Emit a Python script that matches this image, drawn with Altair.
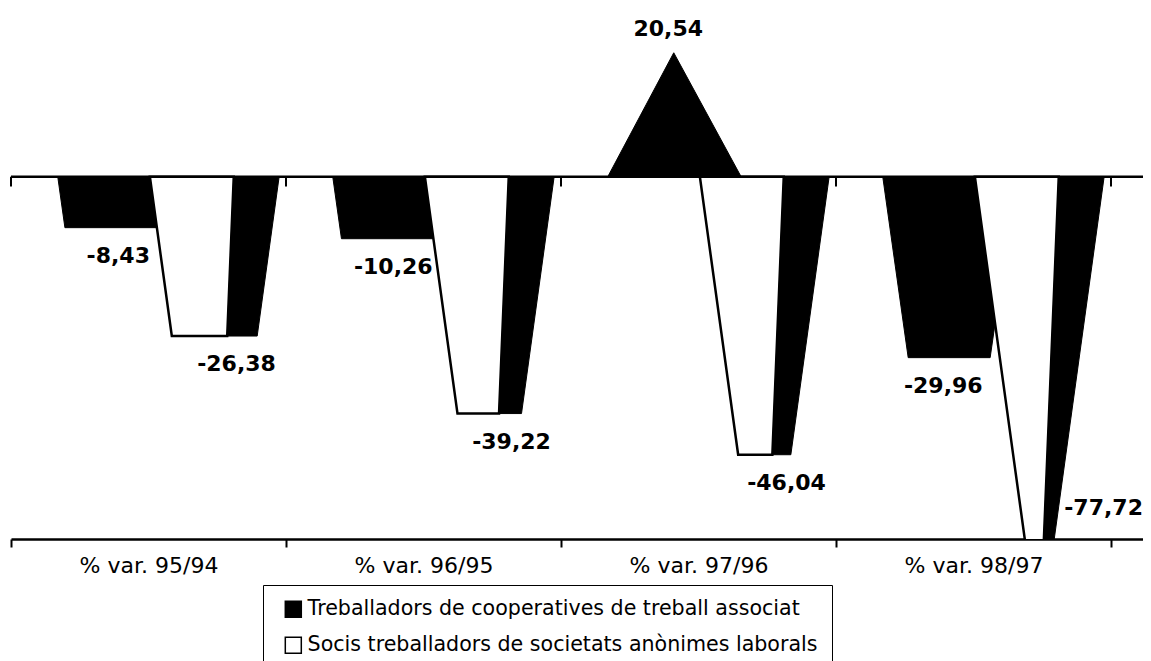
import json
import altair as alt
import pandas as pd

# ---- data ----
categories = ["% var. 95/94", "% var. 96/95", "% var. 97/96", "% var. 98/97"]
coop_values = [-8.43, -10.26, 20.54, -29.96]
socis_values = [-26.38, -39.22, -46.04, -77.72]
series_names = [
    "Treballadors de cooperatives de treball associat",
    "Socis treballadors de societats anònimes laborals",
]

# ---- axis ranges ----
Y_MIN, Y_MAX = -60, 21
SLOT_PX = 275
W, H = 1132, 489
X_MAX = W / SLOT_PX

# pyramid geometry inside one category slot (fractions of the slot)
COOP = dict(left=0.17, right=0.655, apex=0.41)
SOCIS = dict(left=0.505, mid=0.81, right=0.975, apex=0.74)
COOP_LABEL_X = 0.39
SOCIS_LABEL_X = 0.82

all_vals = coop_values + socis_values
neg_apex = min(all_vals)
pos_apex = max(all_vals)


def edge(i, base, apex, t):
    return i + base + (apex - base) * t


def tfor(y, v):
    a = neg_apex if v < 0 else pos_apex
    return y / a


def fmt(v):
    return f"{v:.2f}".replace(".", ",")


shape_rows = []
for i, v in enumerate(coop_values):
    for y in (0.0, v):
        t = tfor(y, v)
        shape_rows.append(dict(shape=f"coop{i}", part="coop", series=series_names[0], y=y,
                               x=edge(i, COOP["left"], COOP["apex"], t),
                               x2=edge(i, COOP["right"], COOP["apex"], t)))
for i, v in enumerate(socis_values):
    for y in (0.0, v):
        t = tfor(y, v)
        shape_rows.append(dict(shape=f"front{i}", part="front", series=series_names[1], y=y,
                               x=edge(i, SOCIS["left"], SOCIS["apex"], t),
                               x2=edge(i, SOCIS["mid"], SOCIS["apex"], t)))
        shape_rows.append(dict(shape=f"side{i}", part="side", series=series_names[1], y=y,
                               x=edge(i, SOCIS["mid"], SOCIS["apex"], t),
                               x2=edge(i, SOCIS["right"], SOCIS["apex"], t)))
shapes = pd.DataFrame(shape_rows)

label_rows = []
for i, v in enumerate(coop_values):
    kind = "pos" if v > 0 else "neg"
    label_rows.append(dict(x=i + COOP_LABEL_X, y=v, text=fmt(v), kind=kind))
for i, v in enumerate(socis_values):
    if v < Y_MIN:
        t = tfor(Y_MIN, v)
        label_rows.append(dict(x=edge(i, SOCIS["right"], SOCIS["apex"], t), y=Y_MIN,
                               text=fmt(v), kind="clip"))
    else:
        label_rows.append(dict(x=i + SOCIS_LABEL_X, y=v, text=fmt(v), kind="neg"))
labels = pd.DataFrame(label_rows)

nb = len(categories) + 1
bounds = pd.DataFrame({"b": list(range(nb)), "y0": [0.0] * nb, "y1": [-1.6] * nb})
zero_df = pd.DataFrame({"y": [0.0]})

xscale = alt.Scale(domain=[0, X_MAX], nice=False, zero=False)
yscale = alt.Scale(domain=[Y_MIN, Y_MAX], nice=False, zero=False)

label_arr = json.dumps(categories + [""])

x_axis = alt.Axis(
    values=list(range(nb)),
    labelExpr=f"{label_arr}[datum.value]",
    labelOffset=SLOT_PX / 2,
    labelFlush=False,
    labelOverlap=False,
    labelBound=False,
    grid=False,
    title=None,
    domainColor="black",
    domainWidth=2.5,
    tickColor="black",
    tickWidth=2,
    tickSize=8,
    labelFont="DejaVu Sans",
    labelFontSize=22,
    labelColor="black",
    labelPadding=8,
)

fill_enc = alt.Fill(
    "series:N",
    scale=alt.Scale(domain=series_names, range=["black", "white"]),
    legend=alt.Legend(
        title=None,
        orient="none",
        legendX=252,
        legendY=535,
        direction="vertical",
        strokeColor="black",
        fillColor="white",
        padding=14,
        symbolType="square",
        symbolSize=256,
        symbolStrokeColor="black",
        symbolStrokeWidth=1.5,
        symbolOffset=6,
        labelFont="DejaVu Sans",
        labelFontSize=20.6,
        labelColor="black",
        labelLimit=1000,
        labelOffset=4,
        rowPadding=13,
    ),
)

X = alt.X("x:Q", scale=xscale, axis=x_axis)
Y = alt.Y("y:Q", scale=yscale, axis=None)

base = alt.Chart(shapes)

coop_layer = base.transform_filter(alt.datum.part == "coop").mark_area(
    orient="horizontal", clip=True, stroke="black", strokeWidth=1
).encode(y=Y, x=X, x2="x2:Q", detail="shape:N", fill=fill_enc)

front_layer = base.transform_filter(alt.datum.part == "front").mark_area(
    orient="horizontal", clip=True, stroke="black", strokeWidth=2.5
).encode(y=Y, x=X, x2="x2:Q", detail="shape:N", fill=fill_enc)

side_layer = base.transform_filter(alt.datum.part == "side").mark_area(
    orient="horizontal", clip=True, stroke="black", strokeWidth=1, fill="black"
).encode(y=Y, x=X, x2="x2:Q", detail="shape:N")

zero_line = alt.Chart(zero_df).mark_rule(color="black", strokeWidth=2.5).encode(y=Y)

zero_ticks = alt.Chart(bounds).mark_rule(color="black", strokeWidth=2).encode(
    x=alt.X("b:Q", scale=xscale, axis=x_axis),
    y=alt.Y("y0:Q", scale=yscale, axis=None),
    y2="y1:Q",
)

text_base = alt.Chart(labels).encode(x=X, y=Y, text="text:N")
tstyle = dict(font="DejaVu Sans", fontSize=22, fontWeight="bold", color="black")
neg_text = text_base.transform_filter(alt.datum.kind == "neg").mark_text(
    baseline="middle", align="center", dy=28, **tstyle)
pos_text = text_base.transform_filter(alt.datum.kind == "pos").mark_text(
    baseline="middle", align="center", dy=-24, **tstyle)
clip_text = text_base.transform_filter(alt.datum.kind == "clip").mark_text(
    baseline="middle", align="left", dx=10, dy=-31, **tstyle)

chart = alt.layer(
    coop_layer, front_layer, side_layer, zero_line, zero_ticks,
    neg_text, pos_text, clip_text,
).properties(
    width=W,
    height=H,
    autosize=alt.AutoSizeParams(type="none"),
    padding={"left": 3, "top": 42, "right": 0, "bottom": 122},
    background="white",
).configure_view(stroke=None)

chart.save("out.html", embed_options={"renderer": "svg", "actions": False})
